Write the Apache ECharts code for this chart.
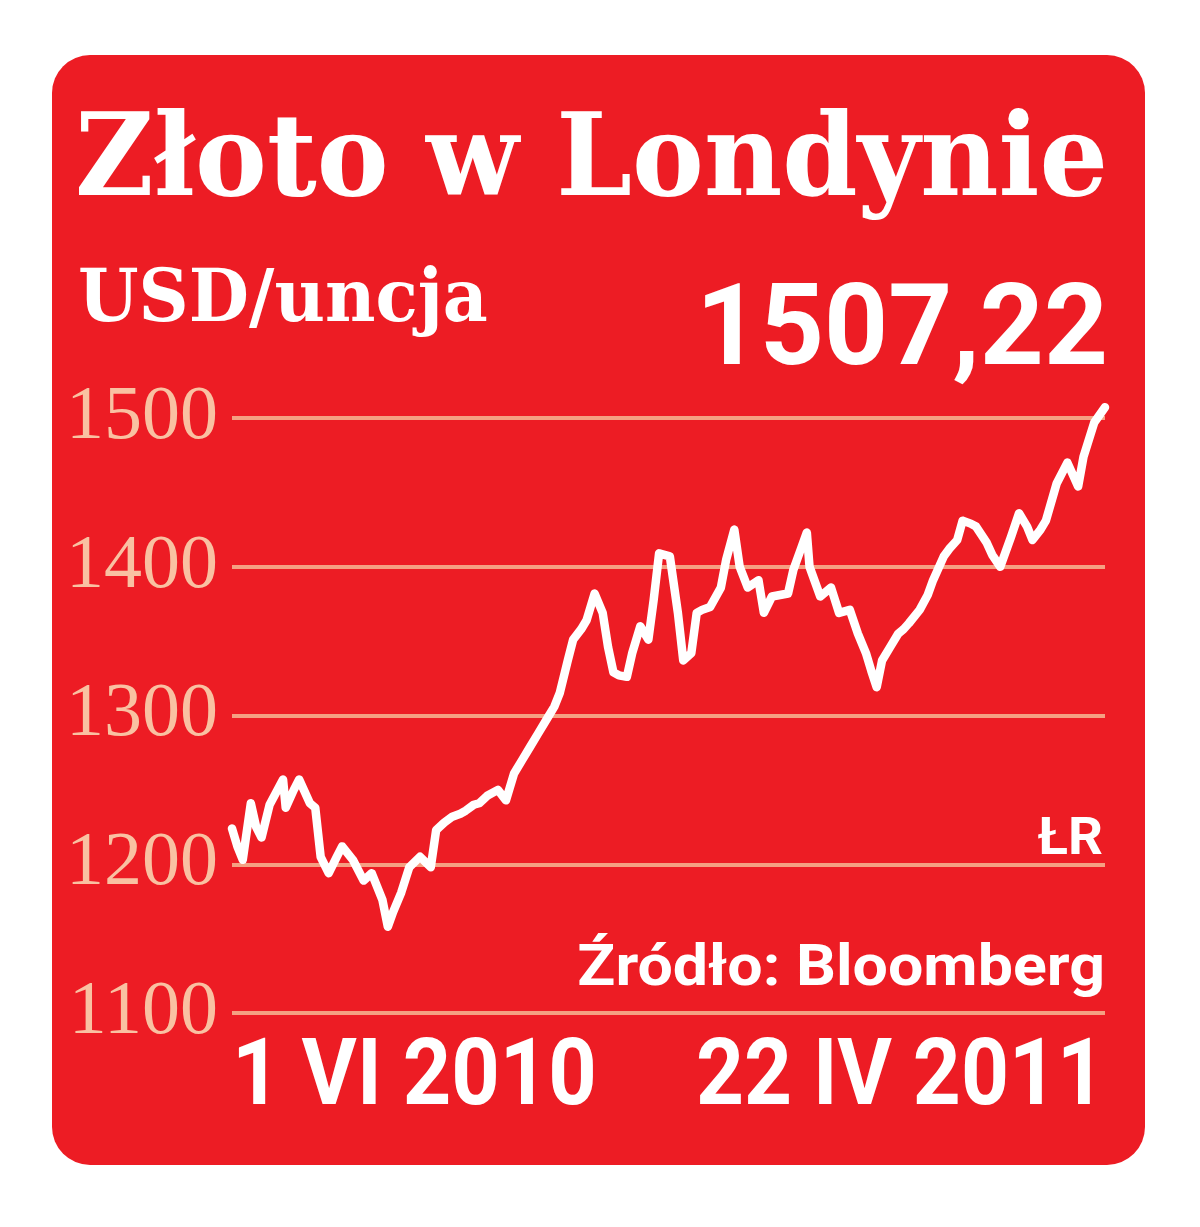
<!DOCTYPE html>
<html>
<head>
<meta charset="utf-8">
<script src="https://cdn.jsdelivr.net/npm/echarts@6/dist/echarts.min.js"></script>
<style>
html,body{margin:0;padding:0;background:#fff;}
#chart{width:1200px;height:1227px;}
</style>
</head>
<body>
<div id="chart"></div>
<script>
// Days since 1 VI 2010 (day 0) up to 22 IV 2011 (day 325)
const days = [0,2,4,7,9,11,14,19,20,23,25,29,31,33,36,39,41,45,49,52,56,58,60,63,66,70,74,76,79,82,85,87,90,92,95,99,102,105,108,111,114,117,120,122,125,127,130,132,135,138,140,142,144,147,149,152,155,157,159,163,166,168,171,173,175,178,182,184,187,189,192,196,198,201,204,207,209,212,214,215,219,223,226,230,233,236,238,240,242,245,248,250,252,256,259,261,265,267,270,272,275,277,281,283,286,290,293,296,298,301,303,307,311,315,317,321,325];
// Gold price, USD per ounce
const prices = [1224,1212,1203,1241,1225,1218,1240,1257,1238,1250,1257,1241,1238,1205,1194,1205,1212,1203,1189,1194,1176,1158,1168,1181,1198,1205,1198,1223,1228,1232,1234,1236,1240,1241,1246,1250,1243,1261,1270,1279,1288,1297,1306,1315,1337,1351,1358,1364,1382,1369,1346,1329,1327,1326,1342,1360,1351,1378,1409,1407,1369,1337,1342,1369,1371,1373,1386,1405,1425,1400,1386,1391,1369,1380,1381,1382,1398,1413,1423,1400,1380,1386,1369,1371,1355,1342,1330,1319,1337,1346,1355,1358,1362,1371,1381,1391,1407,1412,1418,1431,1429,1427,1416,1408,1400,1420,1436,1427,1418,1425,1431,1456,1470,1454,1474,1497,1507.22];
const yTicks = [1100,1200,1300,1400,1500];

const titleText = 'Złoto w Londynie';
const unitText = 'USD/uncja';
const lastValueText = '1507,22';
const authorText = 'ŁR';
const sourceText = 'Źródło: Bloomberg';
const startLabel = '1 VI 2010';
const endLabel = '22 IV 2011';

const chart = echarts.init(document.getElementById('chart'));
const WHITE = '#ffffff';
const RED = '#ED1C24';
const SANS = 'Roboto, "Noto Sans", sans-serif';
const SERIF = '"DejaVu Serif", serif';

function txt(text, x, y, font, align, sx) {
  return { type: 'text', x: x, y: y, z: 10, scaleX: sx || 1,
    style: { text: text, fill: WHITE, font: font, align: align, verticalAlign: 'top' } };
}

chart.setOption({
  backgroundColor: '#ffffff',
  animation: false,
  grid: { left: 232, right: 95, top: 418, bottom: 214 },
  xAxis: {
    type: 'value', min: 0, max: 325,
    axisLine: { show: false }, axisTick: { show: false },
    axisLabel: { show: false }, splitLine: { show: false }
  },
  yAxis: {
    type: 'value', min: yTicks[0], max: yTicks[yTicks.length - 1], interval: 100,
    axisLine: { show: false }, axisTick: { show: false },
    axisLabel: {
      color: '#F9C1A2', fontFamily: '"Liberation Serif", serif', fontSize: 76,
      margin: 14, formatter: v => String(v)
    },
    splitLine: { lineStyle: { color: '#F5A082', width: 4 } }
  },
  graphic: [
    { type: 'rect', z: -10, shape: { x: 52, y: 55, width: 1093, height: 1110, r: 38 }, style: { fill: RED } },
    txt(titleText, 75, 108, 'bold 114px ' + SERIF, 'left', 0.945),
    txt(unitText, 78, 266, 'bold 72px ' + SERIF, 'left', 0.965),
    txt(lastValueText, 1108, 278, 'bold 114px ' + SANS, 'right', 0.98),
    txt(authorText, 1103, 815, 'bold 52px ' + SANS, 'right', 1.05),
    txt(sourceText, 1105, 942, 'bold 57px ' + SANS, 'right', 1.1),
    txt(startLabel, 232, 1035, 'bold 92px ' + SANS, 'left', 0.92),
    txt(endLabel, 1105, 1035, 'bold 92px ' + SANS, 'right', 0.91)
  ],
  series: [{
    type: 'line',
    data: days.map((d, i) => [d, prices[i]]),
    symbol: 'none',
    clip: false,
    lineStyle: { color: WHITE, width: 8.5, join: 'round', cap: 'round' },
    z: 5
  }]
});
</script>
</body>
</html>
